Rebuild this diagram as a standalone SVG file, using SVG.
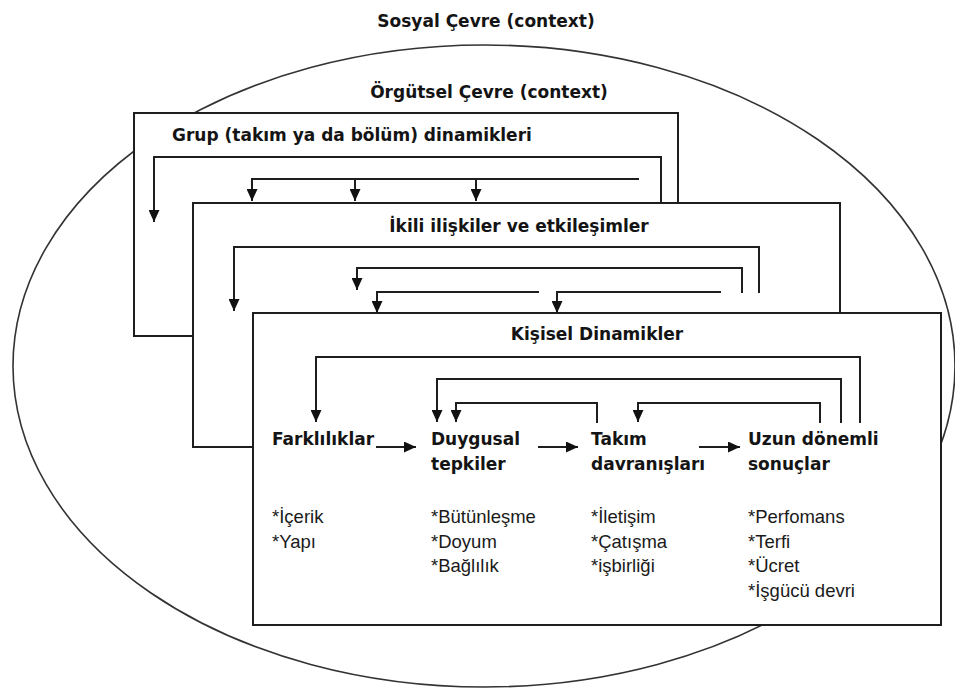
<svg xmlns="http://www.w3.org/2000/svg" width="955" height="688" viewBox="0 0 955 688">
<style>
.box{fill:#fff;stroke:#1e1e1e;stroke-width:2}
.hd{font-family:"DejaVu Sans","Liberation Sans",sans-serif;font-weight:bold;font-size:17px;fill:#141414}
.lb{font-family:"DejaVu Sans","Liberation Sans",sans-serif;font-weight:bold;font-size:17px;fill:#141414}
.ls{font-family:"Liberation Sans",Arial,sans-serif;font-size:18.5px;fill:#1a1a1a}
.cn{fill:none;stroke:#1e1e1e;stroke-width:2;marker-end:url(#ah)}
.ln{fill:none;stroke:#1e1e1e;stroke-width:2}
</style>
<defs>
<marker id="ah" viewBox="0 0 12 11" refX="12" refY="5.5" markerWidth="12" markerHeight="11" markerUnits="userSpaceOnUse" orient="auto">
<path d="M0,0 L12,5.5 L0,11 z" fill="#111"/>
</marker>
</defs>
<g id="context">
<ellipse cx="484" cy="366" rx="471" ry="321" fill="none" stroke="#333" stroke-width="1.6"/>
<text class="hd" x="486" y="27" text-anchor="middle">Sosyal Çevre (context)</text>
<text class="hd" x="489" y="98" text-anchor="middle">Örgütsel Çevre (context)</text>
</g>
<g id="grup">
<rect class="box" x="134" y="113" width="544" height="223"/>
<text class="hd" x="172" y="141">Grup (takım ya da bölüm) dinamikleri</text>
</g>
<g id="ikili">
<rect class="box" x="193" y="203" width="647" height="244"/>
<text class="hd" x="519" y="232" text-anchor="middle">İkili ilişkiler ve etkileşimler</text>
</g>
<g id="kisisel">
<rect class="box" x="253" y="313" width="688" height="312"/>
<text class="hd" x="597" y="340" text-anchor="middle">Kişisel Dinamikler</text>
</g>
<g id="farkliliklar">
<text class="lb" x="272" y="445">Farklılıklar</text>
<text class="ls" x="272" y="523">*İçerik</text>
<text class="ls" x="272" y="548">*Yapı</text>
</g>
<g id="duygusal">
<text class="lb" x="431" y="445">Duygusal</text>
<text class="lb" x="431" y="470">tepkiler</text>
<text class="ls" x="431" y="523">*Bütünleşme</text>
<text class="ls" x="431" y="548">*Doyum</text>
<text class="ls" x="431" y="572">*Bağlılık</text>
</g>
<g id="takim">
<text class="lb" x="591" y="445">Takım</text>
<text class="lb" x="591" y="470">davranışları</text>
<text class="ls" x="591" y="523">*İletişim</text>
<text class="ls" x="591" y="548">*Çatışma</text>
<text class="ls" x="591" y="572">*işbirliği</text>
</g>
<g id="uzun">
<text class="lb" x="748" y="445">Uzun dönemli</text>
<text class="lb" x="748" y="470">sonuçlar</text>
<text class="ls" x="748" y="523">*Perfomans</text>
<text class="ls" x="748" y="548">*Terfi</text>
<text class="ls" x="748" y="572">*Ücret</text>
<text class="ls" x="748" y="597">*İşgücü devri</text>
</g>
<g id="connectors">
<path class="cn" d="M661,203 V157 H154 V222"/>
<path class="cn" d="M639,179 H252 V201"/>
<path class="cn" d="M355,179 V201"/>
<path class="cn" d="M476,179 V201"/>
<path class="cn" d="M759,293 V247 H234 V311"/>
<path class="cn" d="M742,293 V268 H357 V290"/>
<path class="cn" d="M539,292 H377 V313"/>
<path class="cn" d="M721,292 H557 V313"/>
<path class="cn" d="M860,423 V357 H316 V422"/>
<path class="cn" d="M841,423 V379 H437 V422"/>
<path class="cn" d="M597,423 V403 H456 V422"/>
<path class="cn" d="M820,423 V403 H638 V422"/>
<path class="cn" d="M376,447 H416"/>
<path class="cn" d="M538,447 H578"/>
<path class="cn" d="M699,447 H740"/>
</g>
</svg>
